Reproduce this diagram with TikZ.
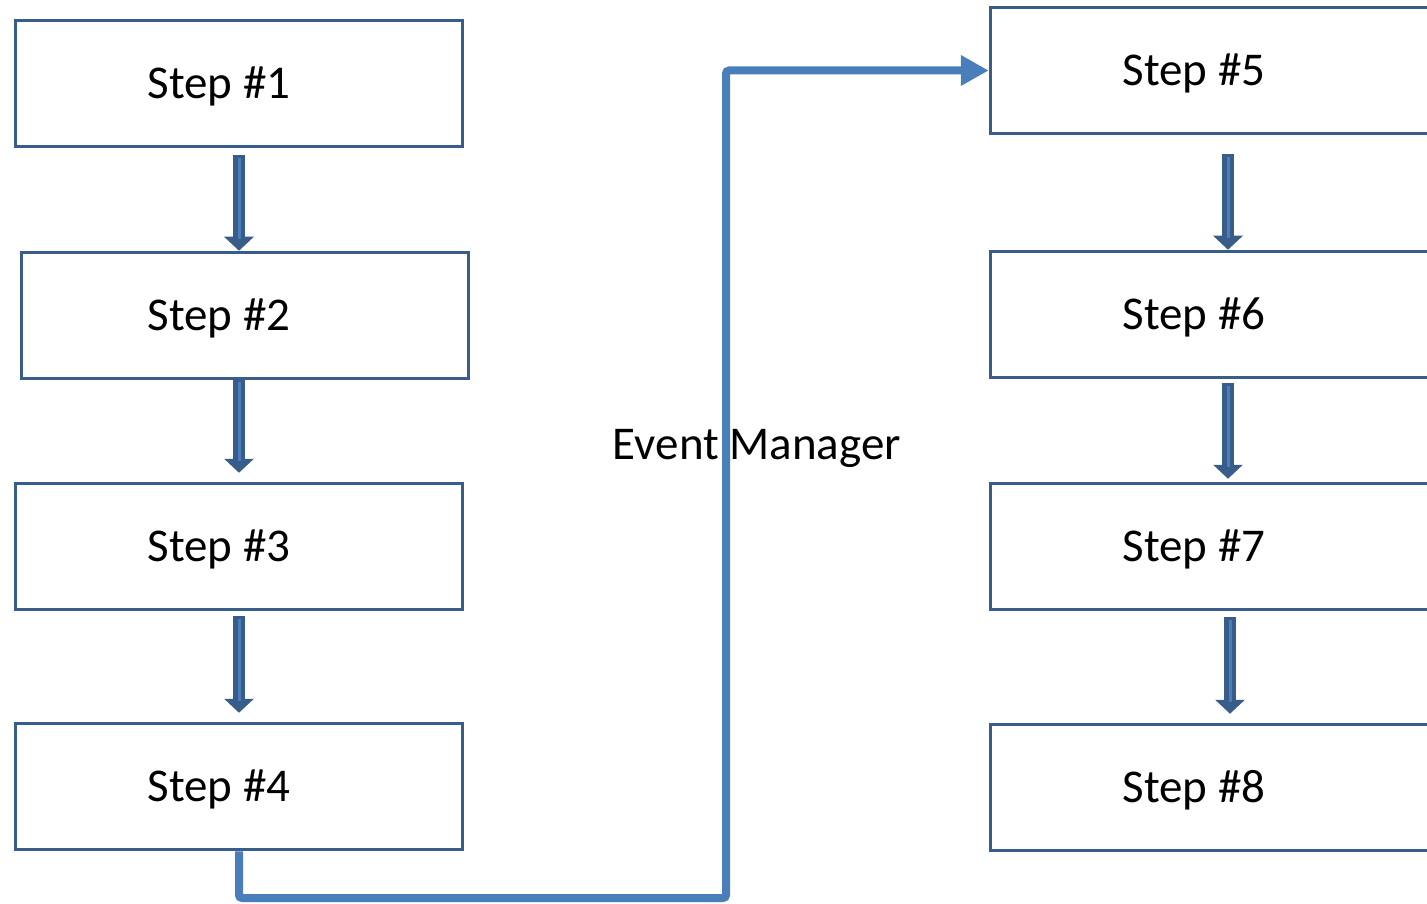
\documentclass[tikz,border=0pt]{standalone}
\usepackage{fontspec}
\setmainfont{Carlito}
\usetikzlibrary{arrows.meta}

\definecolor{boxblue}{RGB}{56,93,138}
\definecolor{lineblue}{RGB}{74,126,187}

\tikzset{
  stepbox/.style={draw=boxblue,line width=3.5pt,minimum width=447pt,minimum height=126pt,
    text height=39pt,text depth=9.5pt,
    font=\fontsize{47}{56}\selectfont,execute at end node={\hspace*{#1}}},
  stepbox/.default=40pt,
  steparrow/.style={draw=boxblue,line width=12pt,-{Triangle[width=29pt,length=14pt]},
    postaction={draw=lineblue,line width=3pt,-,shorten >=12pt,shorten <=3pt}},
  evline/.style={draw=lineblue,line width=8pt,rounded corners=3pt,-{Triangle[width=29pt,length=28pt]}}
}

\begin{document}
\begin{tikzpicture}[x=1pt,y=-1pt]
\clip (0,0) rectangle (1427,904);

% Left column
\node[stepbox] (s1) at (239,83.5) {Step \#1};
\node[stepbox=52pt] (s2) at (245,315.5) {Step \#2};
\node[stepbox] (s3) at (239,546.5) {Step \#3};
\node[stepbox] (s4) at (239,786.5) {Step \#4};

% Right column
\node[stepbox] (s5) at (1214,70.5) {Step \#5};
\node[stepbox] (s6) at (1214,314.5) {Step \#6};
\node[stepbox] (s7) at (1214,546.5) {Step \#7};
\node[stepbox] (s8) at (1214,787.5) {Step \#8};

% Step arrows
\draw[steparrow] ([yshift=-7pt]s1.south) -- (s1.south |- s2.north);
\draw[steparrow] ([yshift=1pt]s3.north |- s2.south) -- ([yshift=9pt]s3.north);
\draw[steparrow] ([yshift=-5pt]s3.south) -- ([yshift=9pt]s4.north);
\draw[steparrow] ([xshift=14pt,yshift=-19pt]s5.south) -- ([xshift=14pt]s6.north);
\draw[steparrow] ([xshift=14pt,yshift=-4pt]s6.south) -- ([xshift=14pt,yshift=3pt]s7.north);
\draw[steparrow] ([xshift=16pt,yshift=-6pt]s7.south) -- ([xshift=16pt,yshift=9pt]s8.north);

% Event manager
\node[font=\fontsize{47}{56}\selectfont] (evlabel) at (757,448) {Event Manager};
\coordinate (evbend) at (726,898);
\draw[evline] (s4.south) |- (evbend) |- (s5.west);

\end{tikzpicture}
\end{document}
